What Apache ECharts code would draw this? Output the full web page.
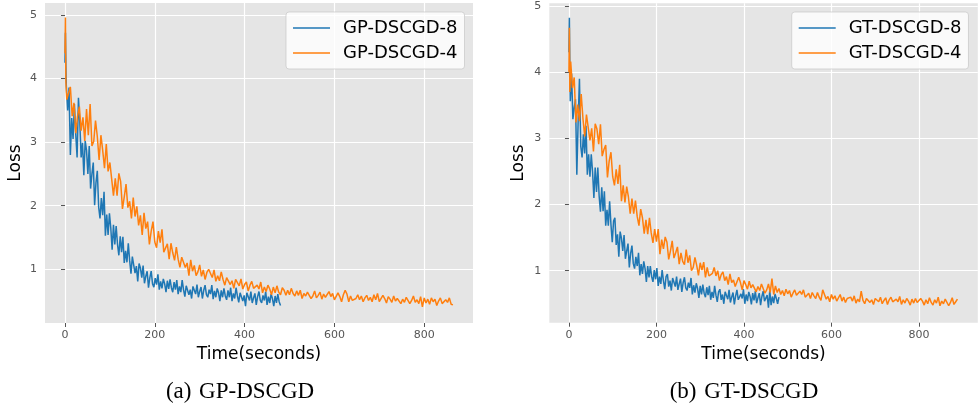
<!DOCTYPE html>
<html><head><meta charset="utf-8">
<script src="https://cdn.jsdelivr.net/npm/echarts@6/dist/echarts.min.js"></script>
<style>html,body{margin:0;padding:0;background:#fff}#c{width:978px;height:407px}</style>
</head><body><div id="c"></div>
<script>
// ---------- data ----------
const legendNamesGP = ['GP-DSCGD-8', 'GP-DSCGD-4'];
const legendNamesGT = ['GT-DSCGD-8', 'GT-DSCGD-4'];
const captions = ['(a)\u2004GP-DSCGD', '(b)\u2004GT-DSCGD'];
const xAxisTitle = 'Time(seconds)';
const yAxisTitle = 'Loss';
const xTickValues = [0, 200, 400, 600, 800];
const yTickValues = [1, 2, 3, 4, 5];

// sample times (seconds) of the 8-node runs (both panels)
const time8 = [0,1,2,
  3,6,9,12,15,18,21,24,27,30,
  33,36,39,42,45,48,51,54,57,60,
  63,66,69,72,75,78,81,84,87,90,
  93,96,99,102,105,108,111,114,117,120,
  123,126,129,132,135,138,141,144,147,150,
  153,156,159,162,165,168,171,174,177,180,
  183,186,189,192,195,198,201,204,207,210,
  213,216,219,222,225,228,231,234,237,240,
  243,246,249,252,255,258,261,264,267,270,
  273,276,279,282,285,288,291,294,297,300,
  303,306,309,312,315,318,321,324,327,330,
  333,336,339,342,345,348,351,354,357,360,
  363,366,369,372,375,378,381,384,387,390,
  393,396,399,402,405,408,411,414,417,420,
  423,426,429,432,435,438,441,444,447,450,
  453,456,459,462,465,468,471,474,477,480];

const lossGP8 = [4.25,4.72,4.2,
  3.88,3.5,3.86,2.8,3.38,3.05,3.6,3.12,2.76,3.7,
  3.31,2.76,2.99,2.48,3.02,2.87,2.5,2.94,2.27,2.5,
  2.68,2.01,2.36,2.55,1.98,1.8,2.12,1.85,2.22,1.53,
  1.86,1.54,1.88,1.65,1.31,1.7,1.39,1.68,1.39,1.22,
  1.52,1.27,1.51,1.1,1.29,1.11,1.41,1.14,0.93,1.2,
  1.22,0.94,1.05,0.81,1.09,1.02,0.87,1.06,0.78,0.89,
  0.97,0.71,0.87,0.97,0.77,0.72,0.86,0.76,0.92,0.68,
  0.81,0.7,0.85,0.77,0.64,0.82,0.69,0.84,0.71,0.64,
  0.8,0.68,0.83,0.61,0.73,0.64,0.83,0.68,0.57,0.74,
  0.77,0.6,0.68,0.54,0.73,0.7,0.61,0.76,0.56,0.65,
  0.72,0.54,0.67,0.75,0.6,0.56,0.68,0.61,0.75,0.53,
  0.66,0.56,0.7,0.63,0.5,0.67,0.56,0.7,0.58,0.52,
  0.67,0.56,0.71,0.5,0.62,0.54,0.71,0.58,0.48,0.63,
  0.66,0.5,0.59,0.42,0.63,0.6,0.51,0.65,0.47,0.55,
  0.62,0.44,0.57,0.65,0.51,0.47,0.59,0.51,0.65,0.44,
  0.57,0.47,0.61,0.54,0.42,0.58,0.47,0.61,0.49,0.43];

const lossGT8 = [4.3,4.82,4.1,
  3.56,3.98,3.29,3.46,3.59,2.45,3.25,3.9,2.88,2.71,
  3.06,2.77,3.19,2.45,2.76,2.42,2.76,2.49,2.1,2.56,
  2.19,2.56,2.13,1.89,2.26,1.9,2.2,1.68,1.92,1.68,
  2.05,1.7,1.43,1.75,1.8,1.39,1.55,1.21,1.59,1.49,
  1.3,1.54,1.18,1.3,1.41,1.05,1.26,1.38,1.11,1.03,
  1.21,1.07,1.27,0.93,1.1,0.95,1.14,1.03,0.83,1.07,
  0.9,1.07,0.91,0.83,1.01,0.87,1.04,0.77,0.91,0.8,
  1.01,0.85,0.72,0.91,0.95,0.76,0.85,0.7,0.89,0.86,
  0.76,0.91,0.71,0.8,0.88,0.68,0.82,0.9,0.74,0.7,
  0.82,0.74,0.89,0.64,0.78,0.67,0.81,0.73,0.59,0.77,
  0.64,0.79,0.66,0.6,0.75,0.63,0.77,0.56,0.68,0.59,
  0.77,0.63,0.53,0.68,0.72,0.56,0.64,0.5,0.68,0.65,
  0.57,0.71,0.52,0.6,0.67,0.49,0.62,0.71,0.56,0.53,
  0.65,0.58,0.72,0.5,0.64,0.54,0.68,0.61,0.49,0.66,
  0.55,0.69,0.51,0.59,0.66,0.48,0.61,0.69,0.54,0.51,
  0.63,0.44,0.7,0.48,0.61,0.51,0.65,0.58,0.5,0.6];

// sample times (seconds) of the 4-node runs (GP run stops at 864 s, GT run at 888 s)
const time4 = [0,1,2,
  4,8,12,16,20,24,28,32,36,40,
  44,48,52,56,60,64,68,72,76,80,
  84,88,92,96,100,104,108,112,116,120,
  124,128,132,136,140,144,148,152,156,160,
  164,168,172,176,180,184,188,192,196,200,
  204,208,212,216,220,224,228,232,236,240,
  244,248,252,256,260,264,268,272,276,280,
  284,288,292,296,300,304,308,312,316,320,
  324,328,332,336,340,344,348,352,356,360,
  364,368,372,376,380,384,388,392,396,400,
  404,408,412,416,420,424,428,432,436,440,
  444,448,452,456,460,464,468,472,476,480,
  484,488,492,496,500,504,508,512,516,520,
  524,528,532,536,540,544,548,552,556,560,
  564,568,572,576,580,584,588,592,596,600,
  604,608,612,616,620,624,628,632,636,640,
  644,648,652,656,660,664,668,672,676,680,
  684,688,692,696,700,704,708,712,716,720,
  724,728,732,736,740,744,748,752,756,760,
  764,768,772,776,780,784,788,792,796,800,
  804,808,812,816,820,824,828,832,836,840,
  844,848,852,856,860,864,868,872,876,880,
  884,888];

const lossGP4 = [4.4,4.96,3.95,
  3.67,3.69,3.87,3.41,3.62,3.14,3.41,3.56,3.18,3.39,
  3.02,3.52,3.11,3.6,2.94,3.01,3.34,3.09,2.72,3.11,
  2.87,2.59,2.97,2.54,2.68,2.67,2.16,2.43,2.16,2.51,
  2.38,1.95,2.14,2.34,1.97,2.07,1.8,2.13,1.83,1.99,
  1.69,1.85,1.54,1.89,1.64,1.75,1.39,1.6,1.75,1.43,
  1.34,1.6,1.42,1.63,1.27,1.28,1.4,1.16,1.41,1.26,
  1.14,1.35,1.16,1.03,1.19,1.21,1.03,1.1,0.9,1.15,
  0.97,1.06,0.9,0.96,1.07,0.89,0.99,0.84,0.95,1.0,
  0.97,0.87,0.99,0.81,0.9,0.82,0.96,0.84,0.75,0.87,
  0.89,0.76,0.82,0.7,0.84,0.82,0.74,0.85,0.69,0.76,
  0.8,0.66,0.75,0.81,0.7,0.67,0.75,0.69,0.8,0.63,
  0.72,0.65,0.75,0.69,0.6,0.72,0.63,0.74,0.64,0.6,
  0.71,0.67,0.59,0.67,0.6,0.7,0.62,0.58,0.66,0.59,
  0.67,0.54,0.62,0.58,0.64,0.62,0.54,0.58,0.66,0.55,
  0.59,0.64,0.53,0.61,0.56,0.55,0.65,0.57,0.62,0.52,
  0.54,0.63,0.57,0.49,0.6,0.67,0.61,0.49,0.58,0.51,
  0.5,0.54,0.6,0.52,0.58,0.49,0.55,0.59,0.51,0.56,
  0.49,0.6,0.52,0.62,0.49,0.51,0.59,0.54,0.47,0.57,
  0.53,0.48,0.58,0.5,0.54,0.55,0.46,0.53,0.48,0.56,
  0.54,0.46,0.51,0.58,0.48,0.52,0.46,0.57,0.41,0.55,
  0.47,0.53,0.45,0.55,0.49,0.53,0.43,0.5,0.55,0.46,
  0.44,0.52,0.48,0.55,0.45,0.44];

const lossGT4 = [4.0,4.67,3.7,
  4.16,3.76,3.92,3.24,3.51,3.26,3.67,3.3,3.03,3.36,
  3.39,2.97,3.15,2.8,3.22,3.14,2.91,3.21,2.73,2.83,
  2.9,2.41,2.66,2.79,2.42,2.29,2.53,2.31,2.6,2.05,
  2.29,2.03,2.27,2.11,1.86,2.09,1.86,2.06,1.82,1.68,
  1.93,1.8,1.56,1.77,1.55,1.8,1.57,1.42,1.63,1.44,
  1.63,1.25,1.47,1.33,1.51,1.43,1.17,1.3,1.45,1.19,
  1.27,1.36,1.1,1.27,1.14,1.09,1.32,1.12,1.23,1.0,
  1.05,1.2,1.08,0.93,1.12,1.01,1.13,0.9,1.05,0.92,
  0.92,0.96,1.05,0.92,1.0,0.85,0.94,0.98,0.85,0.91,
  0.79,0.95,0.82,0.86,0.76,0.78,0.9,0.82,0.71,0.85,
  0.79,0.72,0.84,0.74,0.79,0.8,0.68,0.76,0.7,0.8,
  0.77,0.66,0.71,0.8,0.67,0.88,0.64,0.77,0.67,0.73,
  0.64,0.7,0.62,0.72,0.65,0.7,0.6,0.66,0.71,0.63,
  0.6,0.69,0.64,0.71,0.6,0.61,0.66,0.58,0.67,0.62,
  0.58,0.67,0.6,0.55,0.71,0.64,0.57,0.61,0.53,0.64,
  0.57,0.62,0.54,0.57,0.64,0.54,0.6,0.52,0.58,0.61,
  0.6,0.54,0.62,0.51,0.57,0.53,0.69,0.55,0.5,0.58,
  0.6,0.52,0.56,0.49,0.58,0.57,0.53,0.6,0.5,0.55,
  0.59,0.49,0.56,0.6,0.53,0.5,0.57,0.53,0.61,0.49,
  0.56,0.51,0.58,0.54,0.48,0.57,0.51,0.58,0.52,0.49,
  0.58,0.54,0.48,0.56,0.5,0.59,0.52,0.48,0.56,0.51,
  0.6,0.47,0.54,0.5,0.57,0.55,0.47,0.52,0.59,0.49,
  0.53,0.57];

// ---------- chart ----------
const BLUE = '#1f77b4', ORANGE = '#ff7f0e';
const FONT = 'DejaVu Sans';
function pairs(t, v) { return v.map((y, i) => [t[i], y]); }

function xAxisCfg(idx, min, max) {
  return {
    gridIndex: idx, type: 'value', min: min, max: max,
    name: xAxisTitle, nameLocation: 'middle', nameGap: 23,
    nameTextStyle: { fontFamily: FONT, fontSize: 17, color: '#000' },
    axisLine: { show: false },
    axisTick: { show: true, length: 4, customValues: xTickValues, lineStyle: { color: '#555', width: 1 } },
    axisLabel: { customValues: xTickValues, fontFamily: FONT, fontSize: 11, color: '#555', margin: 7 },
    splitLine: { show: true, lineStyle: { color: '#fff', width: 1.2 } }
  };
}
function yAxisCfg(idx, min, max, gap) {
  return {
    gridIndex: idx, type: 'value', min: min, max: max,
    name: yAxisTitle, nameLocation: 'middle', nameGap: gap,
    nameTextStyle: { fontFamily: FONT, fontSize: 17, color: '#000' },
    axisLine: { show: false },
    axisTick: { show: true, length: 4, customValues: yTickValues, lineStyle: { color: '#555', width: 1 } },
    axisLabel: { customValues: yTickValues, fontFamily: FONT, fontSize: 11, color: '#555', margin: 8 },
    splitLine: { show: true, lineStyle: { color: '#fff', width: 1.2 } }
  };
}
function legendCfg(names, left) {
  return {
    data: names, left: left, top: 12, orient: 'vertical',
    icon: 'rect', itemWidth: 37, itemHeight: 1.5, itemGap: 5,
    padding: [6, 7, 6, 7],
    backgroundColor: 'rgba(255,255,255,0.8)',
    borderColor: 'rgba(204,204,204,0.8)', borderWidth: 1, borderRadius: 3,
    textStyle: { fontFamily: FONT, fontSize: 18, color: '#000', lineHeight: 20, padding: [0, 0, 0, 8] }
  };
}
function lineSeries(name, color, idx, t, v, z) {
  return {
    type: 'line', name: name, xAxisIndex: idx, yAxisIndex: idx,
    data: pairs(t, v), showSymbol: false, symbol: 'none', z: z,
    lineStyle: { color: color, width: 1.5 }, itemStyle: { color: color },
    emphasis: { disabled: true }, clip: true
  };
}

const chart = echarts.init(document.getElementById('c'), null, { renderer: 'canvas' });
chart.setOption({
  animation: false,
  backgroundColor: '#fff',
  grid: [
    { left: 45, top: 3, width: 428, height: 320, show: true, backgroundColor: '#E5E5E5', borderWidth: 0, outerBoundsMode: 'none' },
    { left: 549.3, top: 3.3, width: 428.5, height: 319.4, show: true, backgroundColor: '#E5E5E5', borderWidth: 0, outerBoundsMode: 'none' }
  ],
  xAxis: [xAxisCfg(0, -44.5, 908.7), xAxisCfg(1, -44.9, 934.5)],
  yAxis: [yAxisCfg(0, 0.155, 5.19, 21), yAxisCfg(1, 0.214, 5.04, 22)],
  legend: [legendCfg(legendNamesGP, 286), legendCfg(legendNamesGT, 791.7)],
  tooltip: { show: false },
  series: [
    lineSeries(legendNamesGP[0], BLUE, 0, time8, lossGP8, 2),
    lineSeries(legendNamesGP[1], ORANGE, 0, time4, lossGP4, 3),
    lineSeries(legendNamesGT[0], BLUE, 1, time8, lossGT8, 2),
    lineSeries(legendNamesGT[1], ORANGE, 1, time4, lossGT4, 3)
  ],
  graphic: [
    { type: 'text', x: 240, y: 392, style: { text: captions[0], font: '23px "Liberation Serif"', fill: '#000', align: 'center', verticalAlign: 'middle' } },
    { type: 'text', x: 744, y: 392, style: { text: captions[1], font: '23px "Liberation Serif"', fill: '#000', align: 'center', verticalAlign: 'middle' } }
  ]
});
</script>
</body></html>
